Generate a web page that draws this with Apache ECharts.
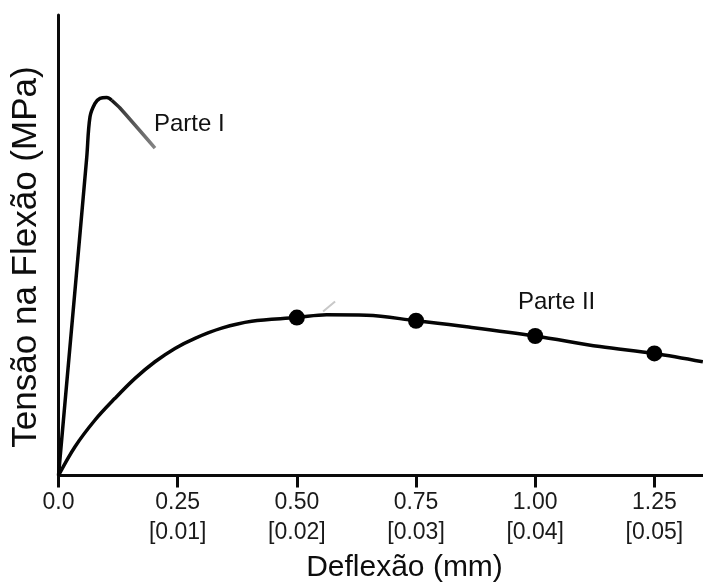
<!DOCTYPE html>
<html>
<head>
<meta charset="utf-8">
<title>Tensão na Flexão x Deflexão</title>
<script src="https://cdn.jsdelivr.net/npm/echarts@6/dist/echarts.min.js"></script>
<style>
  html, body { margin: 0; padding: 0; background: #fff; }
  #chart { width: 703px; height: 585px; }
</style>
</head>
<body>
<div id="chart"></div>
<script>
// Deflection ticks (mm) and the matching values in inches
const xTicks = [0, 0.25, 0.5, 0.75, 1.0, 1.25];
const mmLabels = ['0.0', '0.25', '0.50', '0.75', '1.00', '1.25'];
const inLabels = ['', '[0.01]', '[0.02]', '[0.03]', '[0.04]', '[0.05]'];

// Parte I: rising branch and peak (deflection mm, relative stress)
const parte1X = [0, 0.0591, 0.0661, 0.0766, 0.0870, 0.1011, 0.1116];
const parte1Y = [0, 68.9, 77.9, 80.8, 81.9, 82.1, 81.5];
// Parte I: falling tail after the peak
const parte1TailX = [0.1116, 0.1290, 0.2024];
const parte1TailY = [81.5, 79.8, 71.1];

// Parte II: full curve
const parte2X = [0, 0.0346, 0.0766, 0.1185, 0.1605, 0.2024, 0.2443, 0.2863, 0.3423, 0.4052,
                 0.50, 0.5625, 0.6464, 0.75, 0.8561, 1.00, 1.1357, 1.25, 1.3517];
const parte2Y = [0, 6.25, 12.05, 16.76, 21.1, 24.7, 27.6, 29.8, 32.0, 33.5,
                 34.3, 34.9, 34.8, 33.6, 32.3, 30.3, 28.0, 26.5, 24.7];

// Marked points on Parte II
const markX = [0.50, 0.75, 1.00, 1.25];
const markY = [34.3, 33.6, 30.3, 26.5];

// Short light stroke just right of the first marker
const strokeX = [0.5550, 0.5802];
const strokeY = [35.6, 37.8];

// Curve captions
const captions = ['Parte I', 'Parte II'];
const captionX = [0.2003, 0.9637];
const captionY = [76.3, 37.5];

const zip = (xs, ys) => xs.map((x, i) => [x, ys[i]]);
const FONT = '"Liberation Sans", Arial, Helvetica, sans-serif';

const chart = echarts.init(document.getElementById('chart'), null, { renderer: 'canvas' });

chart.setOption({
  animation: false,
  backgroundColor: '#ffffff',
  grid: { left: 58.5, right: 0, top: 15, bottom: 109.5, outerBoundsMode: 'none' },
  xAxis: {
    type: 'value',
    min: 0,
    max: 1.352,
    interval: 0.25,
    splitLine: { show: false },
    axisLine: { show: true, lineStyle: { color: '#0a0a0a', width: 3 } },
    axisTick: { show: true, customValues: xTicks, length: 12, lineStyle: { color: '#0a0a0a', width: 3 } },
    axisLabel: {
      customValues: xTicks,
      margin: 12,
      fontFamily: FONT,
      fontSize: 23,
      lineHeight: 30,
      color: '#1a1a1a',
      formatter: function (v) {
        const i = xTicks.findIndex(t => Math.abs(t - v) < 1e-6);
        if (i < 0) return '';
        return inLabels[i] ? mmLabels[i] + '\n' + inLabels[i] : mmLabels[i];
      }
    }
  },
  yAxis: {
    type: 'value',
    min: 0,
    max: 100,
    splitLine: { show: false },
    axisLine: { show: true, lineStyle: { color: '#0a0a0a', width: 3 } },
    axisTick: { show: false },
    axisLabel: { show: false }
  },
  graphic: [
    {
      type: 'text',
      x: 404.5, y: 568,
      style: {
        text: 'Deflexão (mm)',
        font: '30px ' + FONT,
        fill: '#0d0d0d',
        align: 'center',
        verticalAlign: 'middle'
      }
    },
    {
      type: 'text',
      x: 26, y: 257,
      rotation: Math.PI / 2,
      style: {
        text: 'Tensão na Flexão (MPa)',
        font: '35px ' + FONT,
        fill: '#0d0d0d',
        align: 'center',
        verticalAlign: 'middle'
      }
    }
  ],
  series: [
    {
      name: 'Parte I',
      type: 'line',
      data: zip(parte1X, parte1Y),
      smooth: 0.35,
      showSymbol: false,
      lineStyle: { color: '#050505', width: 3.5 },
      z: 3
    },
    {
      name: 'Parte I (queda)',
      type: 'line',
      data: zip(parte1TailX, parte1TailY),
      smooth: 0.2,
      showSymbol: false,
      lineStyle: {
        width: 3.5,
        color: new echarts.graphic.LinearGradient(0, 0, 1, 0, [
          { offset: 0, color: '#0a0a0a' },
          { offset: 0.3, color: '#444' },
          { offset: 1, color: '#8a8a8a' }
        ])
      },
      z: 3
    },
    {
      name: 'Parte II',
      type: 'line',
      data: zip(parte2X, parte2Y),
      smooth: 0.35,
      showSymbol: false,
      lineStyle: { color: '#050505', width: 3.5 },
      z: 3
    },
    {
      name: 'traço',
      type: 'line',
      data: zip(strokeX, strokeY),
      showSymbol: false,
      lineStyle: { color: '#c8c8c8', width: 2 },
      z: 2
    },
    {
      name: 'pontos',
      type: 'scatter',
      data: zip(markX, markY),
      symbol: 'circle',
      symbolSize: 16,
      itemStyle: { color: '#000', opacity: 1 },
      z: 4
    },
    {
      name: 'rótulos',
      type: 'scatter',
      data: captions.map((c, i) => ({ value: [captionX[i], captionY[i]], name: c })),
      symbolSize: 0,
      silent: true,
      itemStyle: { opacity: 1 },
      label: {
        show: true,
        position: 'inside',
        align: 'left',
        verticalAlign: 'middle',
        formatter: p => p.name,
        fontFamily: FONT,
        fontSize: 24,
        color: '#111'
      },
      z: 5
    }
  ]
});
</script>
</body>
</html>
